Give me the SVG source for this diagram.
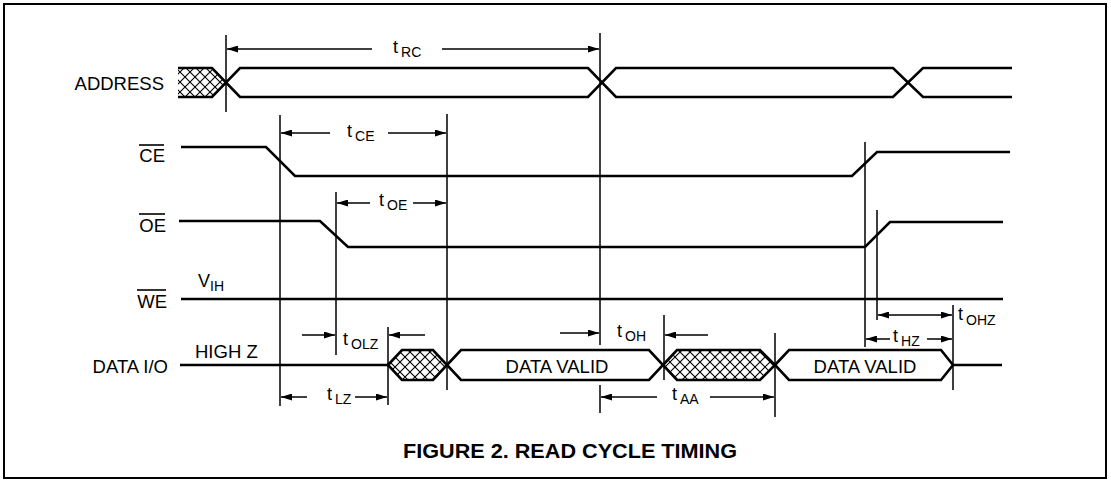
<svg xmlns="http://www.w3.org/2000/svg" width="1111" height="482" viewBox="0 0 1111 482">
<style>
text{font-family:"Liberation Sans",Arial,sans-serif;fill:#000}
.lbl{font-size:18.5px}
.t{font-size:18px}
.sub{font-size:14px}
.sig{fill:none;stroke:#000;stroke-width:2.6;stroke-linejoin:miter}
.hatch{fill:url(#xh);stroke:#000;stroke-width:2.6}
.bar{stroke:#000;stroke-width:1.6}
.vl{stroke:#000;stroke-width:1.5;fill:none}
.dim{stroke:#000;stroke-width:1.5;fill:none;marker-end:url(#ah)}
.cap{font-size:20px;font-weight:bold}
</style>
<defs>
<pattern id="xh" patternUnits="userSpaceOnUse" width="10" height="10" patternTransform="translate(0,2)">
<rect width="10" height="10" fill="#fff"/>
<path d="M0,0 L10,10 M10,0 L0,10" stroke="#000" stroke-width="1.1"/>
</pattern>
<marker id="ah" markerUnits="userSpaceOnUse" markerWidth="11" markerHeight="7" refX="11" refY="3.5" orient="auto-start-reverse">
<path d="M0,0 L11,3.5 L0,7 z" fill="#000"/>
</marker>
</defs>
<rect x="4" y="4" width="1102" height="474" fill="#fff" stroke="#000" stroke-width="2"/>

<g id="address">
<text class="lbl" x="164" y="90" text-anchor="end">ADDRESS</text>
<polygon points="178,68 212,68 226,82 212,97 178,97" fill="url(#xh)" stroke="none"/>
<path class="sig" d="M178,68 H212 L240,97 H588 L616,68 H893 L923,97 H1012"/>
<path class="sig" d="M178,97 H212 L240,68 H588 L616,97 H893 L923,68 H1012"/>
</g>

<g id="ce">
<text class="lbl" x="165" y="162" text-anchor="end">CE</text>
<line class="bar" x1="139" y1="145" x2="164" y2="145"/>
<path class="sig" d="M181,147 H266 L295,176 H852 L877,152 H1010"/>
</g>

<g id="oe">
<text class="lbl" x="166" y="232" text-anchor="end">OE</text>
<line class="bar" x1="139" y1="214" x2="165" y2="214"/>
<path class="sig" d="M179,221 H320 L348,247 H865 L890,222 H1003"/>
</g>

<g id="we">
<text class="lbl" x="167" y="308" text-anchor="end">WE</text>
<line class="bar" x1="137" y1="290" x2="166" y2="290"/>
<text class="t" x="198" y="287">V<tspan class="sub" dy="4">IH</tspan></text>
<path class="sig" d="M181,299 H1003"/>
</g>

<g id="data">
<text class="lbl" x="168" y="373" text-anchor="end">DATA I/O</text>
<text class="lbl" x="195" y="358">HIGH Z</text>
<path class="sig" d="M180,365 H388"/>
<polygon class="hatch" points="388,365 402,350 433,350 447,365 433,380 402,380"/>
<polygon class="sig" points="447,365 461,350 649,350 663,365 649,380 461,380"/>
<text class="lbl" x="557" y="373" text-anchor="middle">DATA VALID</text>
<polygon class="hatch" points="663,365 677,350 760,350 775,365 760,380 677,380"/>
<polygon class="sig" points="775,365 789,350 941,350 953,365 941,380 789,380"/>
<text class="lbl" x="865" y="373" text-anchor="middle">DATA VALID</text>
<path class="sig" d="M953,365 H1002"/>
</g>

<g id="connectors">
<path class="vl" d="M226,35 V112 M600,33 V345 M600,385 V413 M280,115 V406 M447,114 V390 M336,192 V355 M388,327 V405 M664,315 V380 M775,333 V417 M865,142 V347 M877,210 V320 M953,305 V390"/>
<line class="dim" x1="372" y1="49" x2="227" y2="49"/>
<line class="dim" x1="442" y1="49" x2="599" y2="49"/>
<line class="dim" x1="330" y1="133" x2="281" y2="133"/>
<line class="dim" x1="388" y1="133" x2="446" y2="133"/>
<line class="dim" x1="370" y1="203" x2="337" y2="203"/>
<line class="dim" x1="413" y1="203" x2="446" y2="203"/>
<line class="dim" x1="302" y1="335" x2="335" y2="335"/>
<line class="dim" x1="425" y1="335" x2="389" y2="335"/>
<line class="dim" x1="307" y1="397" x2="281" y2="397"/>
<line class="dim" x1="355" y1="397" x2="387" y2="397"/>
<line class="dim" x1="560" y1="333" x2="599" y2="333"/>
<line class="dim" x1="708" y1="335" x2="665" y2="335"/>
<line class="dim" x1="657" y1="397" x2="601" y2="397"/>
<line class="dim" x1="710" y1="397" x2="774" y2="397"/>
<line class="dim" x1="890" y1="339" x2="866" y2="339"/>
<line class="dim" x1="927" y1="339" x2="952" y2="339"/>
<line class="dim" x1="878" y1="315" x2="952" y2="315" marker-start="url(#ah)"/>
<text class="t" x="393" y="53">t<tspan class="sub" dx="3" dy="4">RC</tspan></text>
<text class="t" x="347" y="137">t<tspan class="sub" dx="3" dy="4">CE</tspan></text>
<text class="t" x="379" y="206">t<tspan class="sub" dx="3" dy="4">OE</tspan></text>
<text class="t" x="343" y="345">t<tspan class="sub" dx="3" dy="4">OLZ</tspan></text>
<text class="t" x="327" y="400">t<tspan class="sub" dx="3" dy="4">LZ</tspan></text>
<text class="t" x="617" y="337">t<tspan class="sub" dx="3" dy="4">OH</tspan></text>
<text class="t" x="672" y="400">t<tspan class="sub" dx="3" dy="4">AA</tspan></text>
<text class="t" x="893" y="342">t<tspan class="sub" dx="3" dy="4">HZ</tspan></text>
<text class="t" x="958" y="320">t<tspan class="sub" dx="3" dy="5">OHZ</tspan></text>
</g>

<text class="cap" x="570" y="458" text-anchor="middle" textLength="334" lengthAdjust="spacingAndGlyphs">FIGURE 2. READ CYCLE TIMING</text>
</svg>
